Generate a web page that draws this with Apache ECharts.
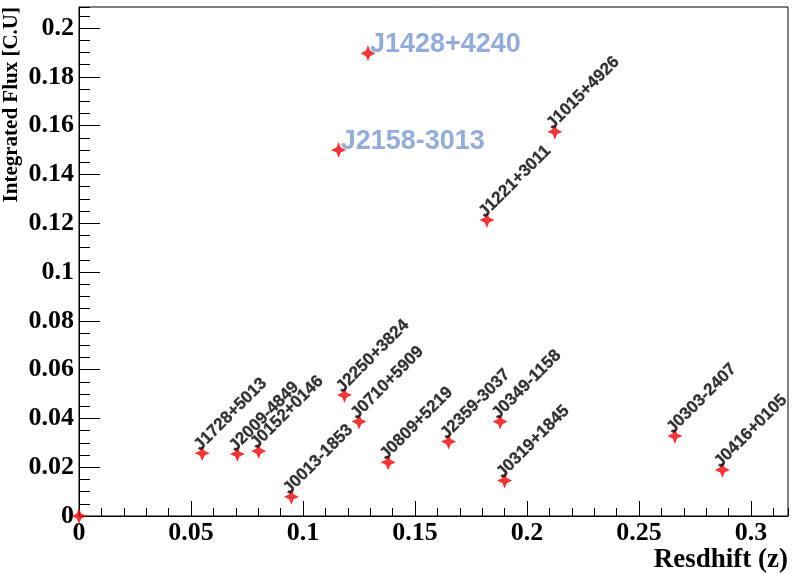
<!DOCTYPE html>
<html><head><meta charset="utf-8">
<script src="https://cdn.jsdelivr.net/npm/echarts@6/dist/echarts.min.js"></script>
<style>html,body{margin:0;padding:0;background:#fff}#c{width:796px;height:574px}</style>
</head><body><div id="c"></div>
<script>
const sourceNames = ['', 'J1728+5013', 'J2009-4849', 'J0152+0146', 'J0013-1853', 'J2250+3824', 'J0710+5909', 'J0809+5219', 'J2359-3037', 'J0349-1158', 'J0319+1845', 'J0303-2407', 'J0416+0105', 'J1221+3011', 'J1015+4926', 'J1428+4240', 'J2158-3013'];
const redshift = [0, 0.0550, 0.0707, 0.0802, 0.0948, 0.1185, 0.1250, 0.1380, 0.1650, 0.1880, 0.1900, 0.2660, 0.2872, 0.1821, 0.2124, 0.1290, 0.1159];
const flux = [0, 0.0257, 0.0254, 0.0266, 0.0079, 0.0496, 0.0387, 0.0220, 0.0305, 0.0387, 0.0145, 0.0328, 0.0189, 0.1213, 0.1575, 0.1896, 0.1500];
const highlighted = ['J1428+4240', 'J2158-3013'];
const xTitle = 'Resdhift (z)';
const yTitle = 'Integrated Flux [C.U]';
const xMin = 0, xMax = 0.3165, xMajor = 0.05, xMinor = 0.01;
const yMin = 0, yMax = 0.2086, yMajor = 0.02, yMinor = 0.005;

const chart = echarts.init(document.getElementById('c'), null, {renderer: 'canvas'});
const fmt = v => String(+(+v).toFixed(4));
const tickFont = {fontFamily: 'Liberation Serif', fontWeight: 'bold', fontSize: 26, color: '#000'};
const line = {color: '#000', width: 1};
const star = 'path://M0,-10 L3.2,-3.2 L11,0 L3.2,3.2 L0,10 L-3.2,3.2 L-11,0 L-3.2,-3.2 Z';

const smallLabel = {show: true, formatter: '{b}', position: 'inside', align: 'left', verticalAlign: 'bottom', rotate: 45, offset: [0, 1],
  fontFamily: 'Liberation Sans', fontWeight: 'bold', fontSize: 17, color: '#000', textBorderColor: '#000', textBorderWidth: 0.3};
const bigLabel = {show: true, formatter: '{b}', position: 'inside', align: 'left', verticalAlign: 'bottom', rotate: 0, offset: [2, 5],
  fontFamily: 'Liberation Sans', fontWeight: 'bold', fontSize: 27, color: '#7799d4'};

const data = sourceNames.map((n, i) => ({
  name: n, value: [redshift[i], flux[i]],
  label: n === '' ? {show: false} : (highlighted.includes(n) ? bigLabel : smallLabel)
}));

const option = {
  animation: false,
  grid: {left: 79, right: 8, top: 7, bottom: 58, show: true, borderColor: '#000', borderWidth: 1, backgroundColor: 'transparent', outerBoundsMode: 'none'},
  xAxis: [
    {type: 'value', position: 'bottom', min: xMin, max: xMax, interval: xMajor,
      axisLine: {show: true, onZero: false, lineStyle: line}, axisTick: {show: true, inside: true, length: 15, lineStyle: line},
      axisLabel: Object.assign({margin: 4, showMaxLabel: false, formatter: fmt}, tickFont), splitLine: {show: false}},
    {type: 'value', position: 'bottom', min: xMin, max: xMax, interval: xMinor,
      axisLine: {show: false}, axisTick: {show: true, inside: true, length: 8, lineStyle: line},
      axisLabel: {show: false}, splitLine: {show: false}}
  ],
  yAxis: [
    {type: 'value', position: 'left', min: yMin, max: yMax, interval: yMajor,
      axisLine: {show: true, onZero: false, lineStyle: line}, axisTick: {show: true, inside: true, length: 21, lineStyle: line},
      axisLabel: Object.assign({margin: 5, showMaxLabel: false, formatter: fmt}, tickFont), splitLine: {show: false}},
    {type: 'value', position: 'left', min: yMin, max: yMax, interval: yMinor,
      axisLine: {show: false}, axisTick: {show: true, inside: true, length: 11, lineStyle: line},
      axisLabel: {show: false}, splitLine: {show: false}}
  ],
  series: [{
    type: 'scatter', xAxisIndex: 0, yAxisIndex: 0, symbol: star, symbolSize: [15, 16], clip: false,
    itemStyle: {color: '#ff0000'}, emphasis: {disabled: true}, data: data
  }],
  graphic: [
    {type: 'text', x: 12, y: 7, rotation: Math.PI / 2, style: {text: yTitle, font: 'bold 21px "Liberation Serif"', align: 'right', verticalAlign: 'middle', fill: '#000'}},
    {type: 'text', x: 788, y: 560, style: {text: xTitle, font: 'bold 27px "Liberation Serif"', align: 'right', verticalAlign: 'middle', fill: '#000'}}
  ]
};
chart.setOption(option);
</script></body></html>
